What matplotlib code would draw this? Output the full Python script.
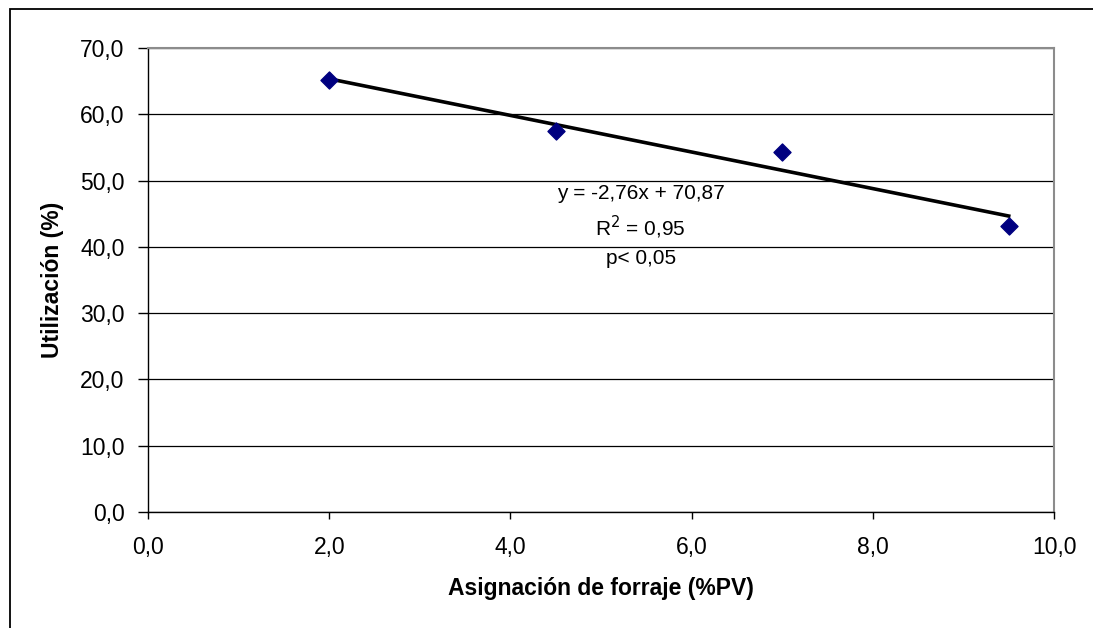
import numpy as np
import matplotlib.pyplot as plt
from matplotlib.patches import Rectangle
from matplotlib.ticker import FuncFormatter

plt.rcParams['font.family'] = ['Liberation Sans', 'DejaVu Sans']

# data
asignacion = [2.0, 4.5, 7.0, 9.5]
utilizacion = [65.1, 57.5, 54.3, 43.1]
slope, intercept = -2.76, 70.87
x_ticks = [0, 2, 4, 6, 8, 10]
y_ticks = [0, 10, 20, 30, 40, 50, 60, 70]

fig = plt.figure(figsize=(10.93, 6.28), dpi=100)
ax = fig.add_axes([148 / 1093, 1 - 512 / 628, (1054 - 148) / 1093, (512 - 48) / 628])

# outer frame of the chart area
fig.patches.append(Rectangle((9.5 / 1093, -0.05), 1.2, 1 - 8.5 / 628 + 0.05,
                             transform=fig.transFigure, fill=False,
                             edgecolor='black', linewidth=1.3))

ax.set_xlim(0, 10)
ax.set_ylim(0, 70)
ax.set_xticks(x_ticks)
ax.set_yticks(y_ticks)
comma = FuncFormatter(lambda v, p: f"{v:.1f}".replace('.', ','))
ax.xaxis.set_major_formatter(comma)
ax.yaxis.set_major_formatter(comma)
ax.tick_params(direction='out', width=1, labelsize=16.5, colors='black')
ax.tick_params(axis='y', length=7, pad=10)
ax.tick_params(axis='x', length=5, pad=12)

ax.grid(axis='y', color='black', linewidth=0.9)
ax.set_axisbelow(True)
for s in ['top', 'right']:
    ax.spines[s].set_color('#8c8c8c')
    ax.spines[s].set_linewidth(1.5)
for s in ['left', 'bottom']:
    ax.spines[s].set_color('black')
    ax.spines[s].set_linewidth(1)

# trend line over the data range
xl = np.array([min(asignacion), max(asignacion)])
ax.plot(xl, slope * xl + intercept, color='black', linewidth=2.6, zorder=3)
ax.scatter(asignacion, utilizacion, marker='D', s=75, color='#000080', zorder=4)

ax.text(5.44, 48.1, "y = -2,76x + 70,87", ha='center', va='center', fontsize=15)
ax.text(5.44, 43.0, "R$^2$ = 0,95", ha='center', va='center', fontsize=15)
ax.text(5.44, 38.3, "p< 0,05", ha='center', va='center', fontsize=15)

ax.set_xlabel("Asignación de forraje (%PV)", fontsize=16.5, fontweight='bold')
ax.set_ylabel("Utilización (%)", fontsize=16.5, fontweight='bold')
ax.xaxis.set_label_coords((601 - 148) / 906, (512 - 588) / 464)
ax.xaxis.label.set_va('center')
ax.yaxis.set_label_coords((53 - 148) / 906, (512 - 280) / 464)
ax.yaxis.label.set_va('center')

fig.savefig("out.png", dpi=100)
